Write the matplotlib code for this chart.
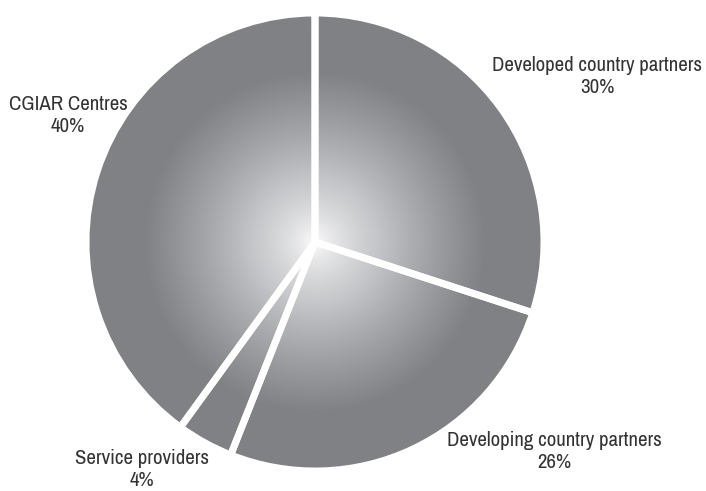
"""Share of partners: pie with radial grey gradient and white separators."""
import numpy as np
import matplotlib.pyplot as plt
from matplotlib.colors import LinearSegmentedColormap

LABELS = ["Developed country partners", "Developing country partners",
          "Service providers", "CGIAR Centres"]
SHARES = [30, 26, 4, 40]

W, H = 706, 491
CENTER = (315, 491 - 242)
RADIUS = 229
EDGE_GREY = "#808185"

# label anchor (pixel coords from the top-left, centre of the two-line text)
LABEL_POS = {
    "Developed country partners": (597, 76),
    "Developing country partners": (554, 452),
    "Service providers": (142, 469),
    "CGIAR Centres": (68, 115),
}

plt.rcParams["font.family"] = ["Archivo Narrow", "DejaVu Sans"]

fig = plt.figure(figsize=(W / 100, H / 100), dpi=100)
ax = fig.add_axes([0, 0, 1, 1])

wedges, _ = ax.pie(SHARES, startangle=90, counterclock=False,
                   center=CENTER, radius=RADIUS, frame=True,
                   wedgeprops=dict(facecolor="none", edgecolor="white",
                                   linewidth=5, zorder=3))

# radial gradient, white in the middle fading to grey at the rim
n = 600
xs = np.linspace(CENTER[0] - RADIUS, CENTER[0] + RADIUS, n)
ys = np.linspace(CENTER[1] - RADIUS, CENTER[1] + RADIUS, n)
gx, gy = np.meshgrid(xs, ys)
r = np.hypot(gx - CENTER[0], gy - CENTER[1]) / RADIUS
s = np.clip(r / 0.75, 0, 1) ** 0.7
cmap = LinearSegmentedColormap.from_list("fade", ["#ffffff", "#c4c5c8", EDGE_GREY])
for w in wedges:
    im = ax.imshow(s, cmap=cmap, vmin=0, vmax=1, origin="lower",
                   extent=(xs[0], xs[-1], ys[0], ys[-1]), zorder=2,
                   interpolation="bilinear")
    im.set_clip_path(w)

for lab, pct in zip(LABELS, SHARES):
    px, py = LABEL_POS[lab]
    ax.text(px, H - py, f"{lab}\n{pct}%", ha="center", va="center",
            fontsize=15, color="#333333", linespacing=1.2, zorder=4)

ax.set_xlim(0, W)
ax.set_ylim(0, H)
ax.set_aspect("equal")
ax.axis("off")
fig.savefig("out.png", dpi=100, facecolor="white")
